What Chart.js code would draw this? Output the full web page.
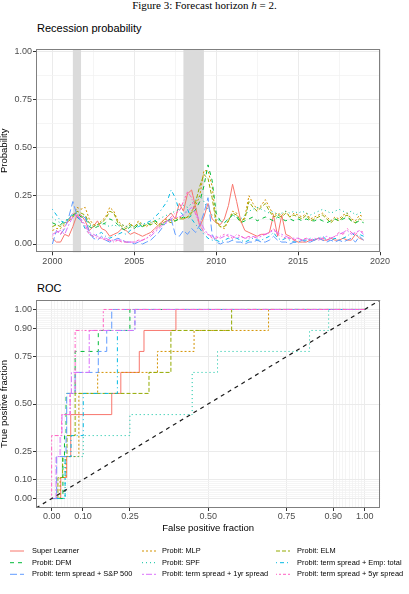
<!DOCTYPE html>
<html><head><meta charset="utf-8">
<script src="https://cdn.jsdelivr.net/npm/chart.js@4.4.0/dist/chart.umd.min.js"></script>
<style>
html,body{margin:0;padding:0;background:#fff;}
#wrap{position:relative;width:409px;height:594px;overflow:hidden;background:#fff;}
.txt{position:absolute;white-space:nowrap;line-height:1;color:#000;}
#cap{left:0;width:409px;text-align:center;top:0px;font-family:"Liberation Serif",serif;font-size:11px;}
#t1{left:37px;top:23.3px;font-family:"Liberation Sans",Arial,sans-serif;font-size:11px;}
#t2{left:37px;top:282.7px;font-family:"Liberation Sans",Arial,sans-serif;font-size:11px;}
canvas{position:absolute;left:0;}
#c1{top:40px;}
#c2{top:280px;}
</style></head>
<body><div id="wrap">
<div id="cap" class="txt">Figure 3: Forecast horizon <i>h</i> = 2.</div>
<div id="t1" class="txt">Recession probability</div>
<div id="t2" class="txt">ROC</div>
<canvas id="c1" width="409" height="232" style="width:409px;height:232px"></canvas>
<canvas id="c2" width="409" height="314" style="width:409px;height:314px"></canvas>
</div>
<script>
// ---------- DATA ----------
const quarters = Array.from({length: 77}, (_, i) => 2000 + i / 4); // 2000Q1 ... 2019Q1
const recessionPeriods = [[2001.25, 2001.75], [2008.0, 2009.25]];
const yearTicks = [2000, 2005, 2010, 2015, 2020];
const yearMinor = [2002.5, 2007.5, 2012.5, 2017.5];
const probTicks = [0, 0.25, 0.5, 0.75, 1];
const probMinor = [0.125, 0.375, 0.625, 0.875];
const rocTicks = [0, 0.1, 0.25, 0.5, 0.75, 0.9, 1];

const seriesNames = ["Super Learner", "Probit: MLP", "Probit: ELM",
  "Probit: DFM", "Probit: SPF", "Probit: term spread + Emp: total",
  "Probit: term spread + S&P 500", "Probit: term spread + 1yr spread", "Probit: term spread + 5yr spread"];

const superLearner = [0.03,0.01,0.01,0.05, 0.04,0.09,0.15,0.15, 0.12,0.07,0.09,0.12, 0.08,0.07,0.04,0.05,
  0.06,0.08,0.07,0.05, 0.06,0.05,0.04,0.05, 0.06,0.08,0.10,0.12, 0.14,0.16,0.13,0.21,
  0.17,0.26,0.28,0.19, 0.09,0.14,0.21,0.13, 0.11,0.10,0.13,0.20, 0.31,0.22,0.12,0.07,
  0.06,0.05,0.04,0.05, 0.05,0.06,0.15,0.04, 0.15,0.05,0.04,0.02, 0.01,0.01,0.01,0.02,
  0.02,0.03,0.02,0.02, 0.03,0.02,0.02,0.03, 0.02,0.02,0.05,0.03, 0.02];
const probitMLP = [0.07,0.08,0.08,0.10, 0.12,0.14,0.19,0.18, 0.19,0.13,0.10,0.10, 0.12,0.14,0.19,0.17,
  0.12,0.10,0.09,0.11, 0.08,0.12,0.10,0.09, 0.11,0.12,0.10,0.12, 0.13,0.12,0.13,0.14,
  0.13,0.14,0.17,0.20, 0.25,0.38,0.38,0.30, 0.12,0.09,0.08,0.12, 0.17,0.16,0.11,0.14,
  0.25,0.21,0.18,0.20, 0.23,0.19,0.15,0.16, 0.15,0.17,0.14,0.16, 0.15,0.14,0.16,0.13,
  0.14,0.15,0.16,0.14, 0.12,0.14,0.13,0.15, 0.16,0.13,0.12,0.15, 0.14];
const probitELM = [0.09,0.10,0.09,0.11, 0.12,0.14,0.17,0.16, 0.15,0.11,0.09,0.10, 0.11,0.13,0.17,0.16,
  0.11,0.09,0.08,0.10, 0.09,0.11,0.09,0.10, 0.10,0.11,0.09,0.11, 0.12,0.11,0.12,0.13,
  0.13,0.14,0.16,0.22, 0.30,0.36,0.34,0.24, 0.11,0.09,0.09,0.12, 0.16,0.15,0.12,0.13,
  0.22,0.19,0.17,0.19, 0.21,0.17,0.14,0.15, 0.14,0.16,0.14,0.15, 0.14,0.13,0.15,0.12,
  0.13,0.14,0.15,0.13, 0.11,0.13,0.12,0.14, 0.15,0.12,0.11,0.13, 0.12];
const probitDFM = [0.11,0.10,0.10,0.12, 0.13,0.15,0.16,0.14, 0.14,0.09,0.08,0.09, 0.10,0.11,0.13,0.12,
  0.10,0.08,0.07,0.09, 0.08,0.10,0.09,0.11, 0.10,0.12,0.11,0.10, 0.12,0.13,0.12,0.13,
  0.14,0.13,0.15,0.18, 0.22,0.30,0.41,0.33, 0.16,0.12,0.11,0.13, 0.15,0.14,0.11,0.12,
  0.13,0.14,0.12,0.13, 0.14,0.13,0.12,0.14, 0.13,0.12,0.13,0.12, 0.13,0.12,0.13,0.12,
  0.12,0.13,0.12,0.11, 0.12,0.13,0.12,0.13, 0.14,0.12,0.11,0.12, 0.11];
const probitSPF = [0.14,0.12,0.11,0.12, 0.13,0.15,0.16,0.15, 0.14,0.10,0.09,0.10, 0.11,0.10,0.09,0.10,
  0.09,0.10,0.09,0.10, 0.09,0.10,0.11,0.10, 0.11,0.12,0.13,0.14, 0.15,0.16,0.17,0.18,
  0.20,0.19,0.21,0.23, 0.25,0.22,0.18,0.15, 0.13,0.12,0.11,0.13, 0.15,0.14,0.13,0.15,
  0.17,0.18,0.19,0.18, 0.17,0.16,0.17,0.15, 0.16,0.17,0.16,0.17, 0.16,0.17,0.16,0.15,
  0.16,0.17,0.18,0.17, 0.16,0.17,0.18,0.17, 0.16,0.17,0.15,0.16, 0.17];
const probitEmp = [0.18,0.15,0.12,0.11, 0.13,0.16,0.14,0.12, 0.08,0.05,0.04,0.05, 0.06,0.04,0.03,0.04,
  0.05,0.06,0.05,0.07, 0.08,0.09,0.10,0.11, 0.12,0.14,0.16,0.19, 0.22,0.28,0.24,0.17,
  0.15,0.18,0.13,0.10, 0.08,0.05,0.03,0.02, 0.02,0.01,0.02,0.03, 0.02,0.03,0.02,0.01,
  0.02,0.03,0.02,0.02, 0.03,0.04,0.06,0.03, 0.02,0.03,0.02,0.01, 0.01,0.02,0.02,0.03,
  0.02,0.03,0.04,0.02, 0.02,0.03,0.02,0.03, 0.04,0.06,0.04,0.05, 0.04];
const probitSP500 = [0.00,0.07,0.05,0.08, 0.14,0.22,0.15,0.12, 0.14,0.06,0.03,0.02, 0.04,0.02,0.01,0.02,
  0.03,0.02,0.01,0.01, 0.00,0.01,0.00,0.01, 0.02,0.04,0.06,0.09, 0.12,0.13,0.05,0.04,
  0.07,0.05,0.08,0.06, 0.10,0.16,0.24,0.05, 0.01,0.00,0.01,0.01, 0.02,0.01,0.01,0.00,
  0.01,0.01,0.02,0.01, 0.01,0.02,0.04,0.02, 0.01,0.01,0.00,0.01, 0.01,0.02,0.01,0.01,
  0.02,0.03,0.02,0.01, 0.02,0.01,0.02,0.01, 0.02,0.03,0.01,0.04, 0.02];
const probit1yr = [0.05,0.06,0.07,0.05, 0.10,0.14,0.15,0.13, 0.10,0.06,0.05,0.04, 0.03,0.03,0.02,0.02,
  0.02,0.02,0.01,0.01, 0.01,0.01,0.02,0.03, 0.04,0.06,0.08,0.10, 0.11,0.13,0.14,0.14,
  0.15,0.17,0.19,0.16, 0.12,0.08,0.05,0.04, 0.04,0.03,0.04,0.05, 0.04,0.03,0.04,0.03,
  0.03,0.04,0.03,0.04, 0.05,0.06,0.07,0.06, 0.05,0.04,0.03,0.03, 0.03,0.02,0.03,0.02,
  0.03,0.02,0.03,0.04, 0.03,0.04,0.05,0.06, 0.07,0.05,0.06,0.07, 0.05];
const probit5yr = [0.04,0.07,0.05,0.09, 0.12,0.16,0.15,0.12, 0.09,0.05,0.04,0.03, 0.03,0.02,0.02,0.01,
  0.02,0.01,0.01,0.01, 0.01,0.02,0.02,0.03, 0.05,0.07,0.09,0.11, 0.12,0.14,0.16,0.17,
  0.22,0.27,0.24,0.15, 0.10,0.06,0.05,0.03, 0.03,0.04,0.05,0.04, 0.03,0.05,0.04,0.03,
  0.04,0.03,0.04,0.05, 0.05,0.06,0.08,0.05, 0.04,0.03,0.03,0.02, 0.03,0.02,0.03,0.02,
  0.02,0.03,0.03,0.02, 0.03,0.04,0.06,0.05, 0.08,0.06,0.05,0.07, 0.06];

// ROC: false positive fraction at which the true positive fraction rises to each next level
const rocTpr = [0, 0.111, 0.222, 0.333, 0.444, 0.556, 0.667, 0.778, 0.889, 1];
const rocSuperLearner = [0.029, 0.048, 0.061, 0.061, 0.192, 0.221, 0.280, 0.295, 0.397];
const rocMLP   = [0.027, 0.046, 0.087, 0.087, 0.087, 0.147, 0.338, 0.455, 0.693];
const rocELM   = [0.020, 0.035, 0.049, 0.075, 0.075, 0.311, 0.381, 0.381, 0.575];
const rocDFM   = [0.036, 0.036, 0.041, 0.046, 0.046, 0.075, 0.075, 0.149, 0.250];
const rocSPF   = [0.043, 0.043, 0.101, 0.250, 0.449, 0.449, 0.530, 0.824, 0.885];
const rocEmp   = [0.043, 0.043, 0.062, 0.101, 0.101, 0.210, 0.210, 0.210, 0.266];
const rocSP500 = [0.016, 0.016, 0.046, 0.048, 0.048, 0.075, 0.149, 0.176, 0.192];
const roc1yr   = [0.014, 0.014, 0.027, 0.033, 0.059, 0.063, 0.120, 0.120, 0.266];
const roc5yr   = [0.000, 0.000, 0.000, 0.032, 0.059, 0.075, 0.075, 0.075, 0.165];

// ---------- STYLE ----------
const seriesColors = ["#F8766D","#D39200","#93AA00","#00BA38","#00C19F","#00B9E3","#619CFF","#DB72FB","#FF61C3"];
const seriesDashes = [[], [2,2], [4,2], [4,4], [1,3], [1,3,4,3], [7,3], [2,2,6,2], [1,2,2,2,3,2,4,2]];
const seriesValues = [superLearner, probitMLP, probitELM, probitDFM, probitSPF, probitEmp, probitSP500, probit1yr, probit5yr];
const rocSteps = [rocSuperLearner, rocMLP, rocELM, rocDFM, rocSPF, rocEmp, rocSP500, roc1yr, roc5yr];

const FONT = "'Liberation Sans', Arial, sans-serif";
Chart.defaults.font.family = FONT;
const tickFont = {family: FONT, size: 9, lineHeight: 1.2};
const tickColor = '#4D4D4D';
const majorGrid = '#EBEBEB', minorGrid = '#F3F3F3';

function rocPoints(steps) {
  const pts = [{x: 0, y: rocTpr[0]}];
  steps.forEach((f, k) => { pts.push({x: f, y: rocTpr[k]}); pts.push({x: f, y: rocTpr[k + 1]}); });
  pts.push({x: 1, y: rocTpr[rocTpr.length - 1]});
  return pts;
}

const near = (a, b) => Math.abs(a - b) < 1e-9;
const isIn = (arr, v) => arr.some(a => near(a, v));

function panelScale(axis, min, max, major, minor, fmt, fixedSize, title) {
  return {
    type: 'linear', min, max,
    afterBuildTicks: s => {
      const all = major.concat(minor.filter(m => !isIn(major, m))).sort((a, b) => a - b);
      s.ticks = all.map(v => ({value: v}));
    },
    ticks: {
      autoSkip: false, maxRotation: 0, minRotation: 0, font: tickFont, color: tickColor,
      padding: axis === 'x' ? 0.6 : 1,
      callback: v => isIn(major, v) ? fmt(v) : ''
    },
    grid: {
      color: c => (c.tick && isIn(major, c.tick.value)) ? majorGrid : minorGrid,
      lineWidth: c => (c.tick && isIn(major, c.tick.value)) ? 1 : 0.8,
      tickLength: 3,
      tickColor: c => (c.tick && isIn(major, c.tick.value)) ? '#333333' : 'rgba(0,0,0,0)',
      tickWidth: 1
    },
    border: {display: false},
    title: title ? {display: true, text: title, color: '#000', font: {family: FONT, size: 9.5, lineHeight: 1}, padding: {top: 0, bottom: 0}} : {display: false},
    afterFit: s => { if (axis === 'x') s.height = fixedSize; else s.width = fixedSize; }
  };
}

const frame = {
  id: 'frame',
  afterDatasetsDraw(chart) {
    const {ctx, chartArea: a} = chart;
    ctx.save();
    ctx.strokeStyle = '#7F7F7F';
    ctx.lineWidth = 1;
    ctx.strokeRect(Math.round(a.left) + 0.5, Math.round(a.top) + 0.5, Math.round(a.right - a.left) - 1, Math.round(a.bottom - a.top) - 1);
    ctx.restore();
  }
};

const shading = {
  id: 'shading',
  beforeDatasetsDraw(chart) {
    const {ctx, chartArea: a, scales: {x}} = chart;
    ctx.save();
    ctx.fillStyle = '#DBDBDB';
    recessionPeriods.forEach(([s, e]) => {
      const x0 = x.getPixelForValue(s), x1 = x.getPixelForValue(e);
      ctx.fillRect(x0, a.top, x1 - x0, a.bottom - a.top);
    });
    ctx.restore();
  }
};

// ---------- CHART 1 ----------
new Chart(document.getElementById('c1'), {
  type: 'line',
  data: {
    labels: quarters,
    datasets: seriesValues.map((vals, i) => ({
      label: seriesNames[i], data: vals,
      borderColor: seriesColors[i], borderDash: seriesDashes[i], borderWidth: 1,
      pointRadius: 0, fill: false, tension: 0, order: seriesValues.length - 1 - i
    }))
  },
  options: {
    responsive: false, animation: false, events: [],
    layout: {padding: {top: 9.3, right: 29, left: 0, bottom: 0}},
    plugins: {legend: {display: false}, tooltip: {enabled: false}},
    scales: {
      x: panelScale('x', 1999, 2020, yearTicks, yearMinor, v => String(v), 19.7, null),
      y: panelScale('y', -0.043, 1.009, probTicks, probMinor, v => v.toFixed(2), 36, 'Probability')
    }
  },
  plugins: [shading, frame]
});

// ---------- CHART 2 ----------
const rocMinor = [];
for (let k = 0; k <= 10; k++) { rocMinor.push(k / 100); rocMinor.push(0.9 + k / 100); }

const legendDraw = {
  id: 'ggLegend',
  afterDraw(chart) {
    const ctx = chart.ctx;
    const rowY = [271, 282.7, 294.3];
    const lineX = [[10, 24], [142, 156], [276, 290]];
    const textX = [32, 162, 297];
    ctx.save();
    ctx.font = "7.4px " + FONT;
    ctx.textBaseline = 'middle';
    ctx.textAlign = 'left';
    seriesNames.forEach((name, i) => {
      const col = i % 3, row = Math.floor(i / 3);
      const y = rowY[row];
      ctx.strokeStyle = seriesColors[i];
      ctx.lineWidth = 1;
      ctx.setLineDash(seriesDashes[i]);
      ctx.beginPath();
      ctx.moveTo(lineX[col][0], y);
      ctx.lineTo(lineX[col][1], y);
      ctx.stroke();
      ctx.setLineDash([]);
      ctx.fillStyle = '#000';
      ctx.fillText(name, textX[col], y);
    });
    ctx.restore();
  }
};

const rocDatasets = rocSteps.map((steps, i) => ({
  label: seriesNames[i], data: rocPoints(steps),
  borderColor: seriesColors[i], borderDash: seriesDashes[i], borderWidth: 1,
  pointRadius: 0, fill: false, tension: 0, order: rocSteps.length - i
}));
rocDatasets.push({
  label: 'chance', data: [{x: -0.05, y: -0.05}, {x: 1.05, y: 1.05}],
  borderColor: '#1A1A1A', borderDash: [4, 4], borderWidth: 1.2, pointRadius: 0, fill: false, order: 0
});

new Chart(document.getElementById('c2'), {
  type: 'line',
  data: {datasets: rocDatasets},
  options: {
    responsive: false, animation: false, events: [],
    parsing: true,
    layout: {padding: {top: 20, right: 28.7, left: 0, bottom: 61}},
    plugins: {legend: {display: false}, tooltip: {enabled: false}},
    scales: {
      x: panelScale('x', -0.05, 1.05, rocTicks, rocMinor, v => v.toFixed(2), 25, 'False positive fraction'),
      y: panelScale('y', -0.05, 1.05, rocTicks, rocMinor, v => v.toFixed(2), 36, 'True positive fraction')
    }
  },
  plugins: [frame, legendDraw]
});
</script>
</body></html>
